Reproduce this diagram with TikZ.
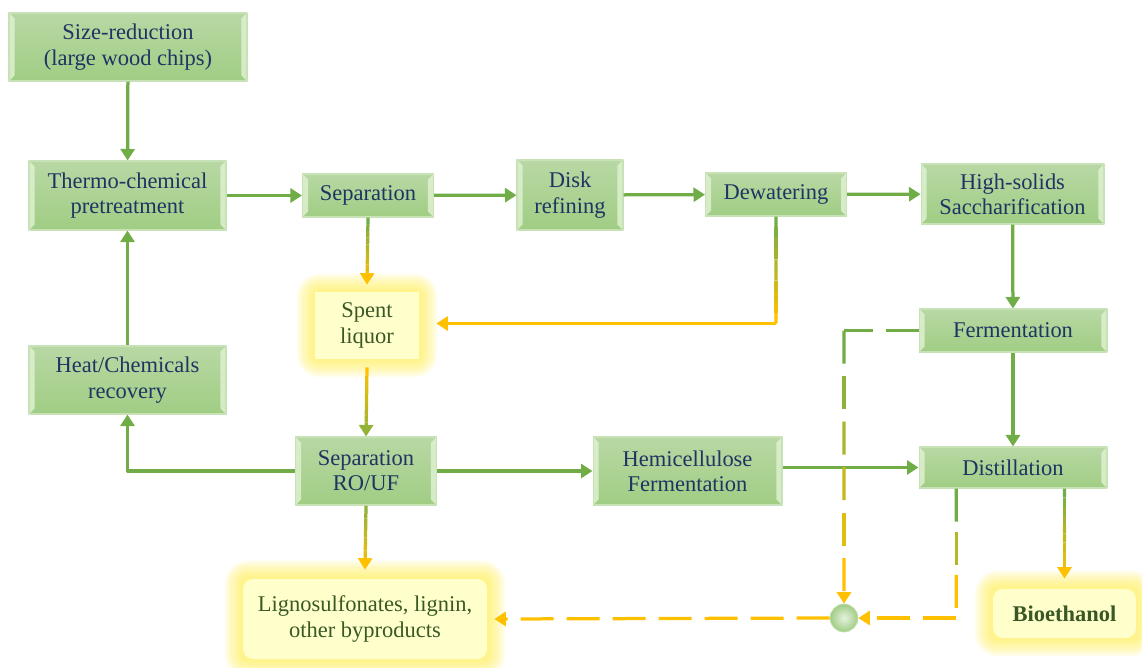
\documentclass[tikz,border=0pt]{standalone}
\usepackage{fontspec}
\setmainfont{Liberation Serif}
\usetikzlibrary{arrows.meta,calc,backgrounds}
\definecolor{linegreen}{RGB}{112,173,71}
\definecolor{lineorange}{RGB}{255,192,0}
\definecolor{boxtop}{RGB}{184,216,164}
\definecolor{boxbot}{RGB}{160,205,132}
\definecolor{boxedge}{RGB}{200,226,184}
\definecolor{bevelgreen}{RGB}{222,241,208}
\definecolor{navytext}{RGB}{31,52,98}
\definecolor{olivetext}{RGB}{58,88,38}
\definecolor{paleyellow}{RGB}{255,255,204}
\definecolor{glowyellow}{RGB}{255,236,70}
\newcommand{\gradline}[6][]{%
  \foreach \k in {1,...,#6}{%
    \pgfmathsetmacro{\ta}{(\k-1)/#6}%
    \pgfmathsetmacro{\tb}{\k/#6}%
    \pgfmathtruncatemacro{\mix}{100*(#6-\k)/(#6-1)}%
    \ifnum\k=#6\relax
      \draw[flow,#1,draw=#4!\mix!#5] ($(#2)!\ta!(#3)$) -- ($(#2)!\tb!(#3)$);
    \else
      \draw[flow,draw=#4!\mix!#5] ($(#2)!\ta!(#3)$) -- ($(#2)!\tb!(#3)$);
    \fi}}

\begin{document}
\begin{tikzpicture}[x=0.02cm,y=-0.02cm,line join=round,
  procbox/.style={draw=boxedge,line width=0.6pt,top color=boxtop,bottom color=boxbot,
    align=center,text=navytext,inner sep=2pt,font=\fontsize{12.8}{14.4}\selectfont,
    path picture={
      \fill[bevelgreen,opacity=0.85] (path picture bounding box.north west) -- ++(0.11cm,-0.11cm)
        -- ([shift={(0.11cm,0.11cm)}]path picture bounding box.south west) -- (path picture bounding box.south west) -- cycle;
      \fill[bevelgreen,opacity=0.85] (path picture bounding box.north east) -- ++(-0.11cm,-0.11cm)
        -- ([shift={(-0.11cm,0.11cm)}]path picture bounding box.south east) -- (path picture bounding box.south east) -- cycle;}},
  outbox/.style={fill=paleyellow,align=center,text=olivetext,inner sep=2pt,font=\fontsize{12.8}{14.4}\selectfont},
  flow/.style={line width=0.065cm},
  tip/.style={-{Triangle[length=0.23cm,width=0.28cm]}},
  dashflow/.style={dash pattern=on 0.66cm off 0.26cm}]
\useasboundingbox (0,0) rectangle (1142,667);

\node[procbox,minimum width=4.76cm,minimum height=1.36cm] (size) at (128,47) {Size-reduction\\(large wood chips)};
\node[procbox,minimum width=3.94cm,minimum height=1.38cm] (thermo) at (127.5,195.5) {Thermo-chemical\\pretreatment};
\node[procbox,minimum width=2.62cm,minimum height=0.86cm] (sep) at (368,195.5) {Separation};
\node[procbox,minimum width=2.12cm,minimum height=1.4cm] (disk) at (570,195) {Disk\\refining};
\node[procbox,minimum width=2.82cm,minimum height=0.86cm] (dew) at (776,194.5) {Dewatering};
\node[procbox,minimum width=3.66cm,minimum height=1.2cm] (hsol) at (1012.5,194) {High-solids\\Saccharification};
\node[procbox,minimum width=3.76cm,minimum height=0.86cm] (ferm) at (1013,330.5) {Fermentation};
\node[procbox,minimum width=3.94cm,minimum height=1.36cm] (heat) at (127.5,380) {Heat/Chemicals\\recovery};
\node[procbox,minimum width=2.82cm,minimum height=1.36cm] (rouf) at (366,471) {Separation\\RO/UF};
\node[procbox,minimum width=3.78cm,minimum height=1.36cm] (hemi) at (687.5,471) {Hemicellulose\\Fermentation};
\node[procbox,minimum width=3.76cm,minimum height=0.82cm] (dist) at (1013,467.5) {Distillation};
\node[outbox,minimum width=2.08cm,minimum height=1.34cm] (spent) at (367,325.5) {Spent\\liquor};
\node[outbox,rounded corners=0.2cm,minimum width=4.88cm,minimum height=1.6cm] (ligno) at (365,619) {Lignosulfonates, lignin,\\other byproducts};
\node[outbox,rounded corners=0.2cm,minimum width=2.86cm,minimum height=0.98cm] (bio) at (1064.5,613.5) {\textbf{Bioethanol}};
\node[circle,minimum size=0.56cm,inner sep=0pt,draw=boxedge,line width=0.4pt,inner color=boxtop!35!white,outer color=boxbot] (dot) at (844,618) {};

\begin{pgfonlayer}{background}
\foreach \n in {spent,ligno,bio}
  \foreach \g in {1,...,9}
    \fill[glowyellow,opacity=0.1,rounded corners=0.04cm*\g+0.1cm] ($(\n.south west)+(-2*\g,2*\g)$) rectangle ($(\n.north east)+(2*\g,-2*\g)$);
\end{pgfonlayer}

\coordinate (spenttop) at ($(spent.north)+(0,-7)$);
\coordinate (spentin) at ($(spent.east)+(17,-2)$);
\coordinate (spentbot) at ($(spent.south)+(0,8)$);
\coordinate (dewcorner) at (dew.south |- spentin);
\coordinate (lignotop) at ($(ligno.north)+(0,-9)$);
\coordinate (lignoin) at ($(ligno.east)+(7,0)$);
\coordinate (distbio) at (dist.south -| bio.north);
\coordinate (biotop) at ($(bio.north)+(0,-10)$);
\coordinate (fermcorner) at (ferm.west -| dot.north);
\coordinate (distdash) at ($(dist.south west)!0.2!(dist.south east)$);
\coordinate (distcorner) at (distdash |- dot.east);

\draw[flow,linegreen,tip] (size) -- (thermo);
\draw[flow,linegreen,tip] (thermo) -- (sep);
\draw[flow,linegreen,tip] (sep) -- (disk);
\draw[flow,linegreen,tip] (disk) -- (dew);
\draw[flow,linegreen,tip] (dew) -- (hsol);
\draw[flow,linegreen,tip] (hsol) -- (ferm);
\draw[flow,linegreen,tip] (ferm) -- (dist);
\draw[flow,linegreen,tip] (heat) -- (thermo);
\draw[flow,linegreen,tip] (rouf.west) -| (heat.south);
\draw[flow,linegreen,tip] (rouf) -- (hemi);
\draw[flow,linegreen,tip] (hemi.east |- dist.west) -- (dist.west);

\gradline[tip]{sep.south}{spenttop}{linegreen}{lineorange}{10}
\gradline{dew.south}{dewcorner}{linegreen}{lineorange}{10}
\draw[flow,lineorange,tip] (dewcorner) -- (spentin);
\gradline[tip]{spentbot}{rouf.north}{lineorange}{linegreen!75!lineorange}{10}
\gradline[tip]{rouf.south}{lignotop}{linegreen!80!lineorange}{lineorange}{10}
\gradline[tip]{distbio}{biotop}{linegreen}{lineorange}{10}

\draw[flow,dashflow,linegreen] (ferm.west) -- (fermcorner);
\begin{scope}[dashflow]
\gradline[tip]{fermcorner}{dot.north}{linegreen}{lineorange}{6}
\gradline{distdash}{distcorner}{linegreen}{lineorange}{3}
\end{scope}
\draw[flow,dashflow,lineorange,tip] (distcorner) -- (dot.east);
\draw[flow,dashflow,lineorange,tip] (dot.west) -- (lignoin);
\end{tikzpicture}
\end{document}
